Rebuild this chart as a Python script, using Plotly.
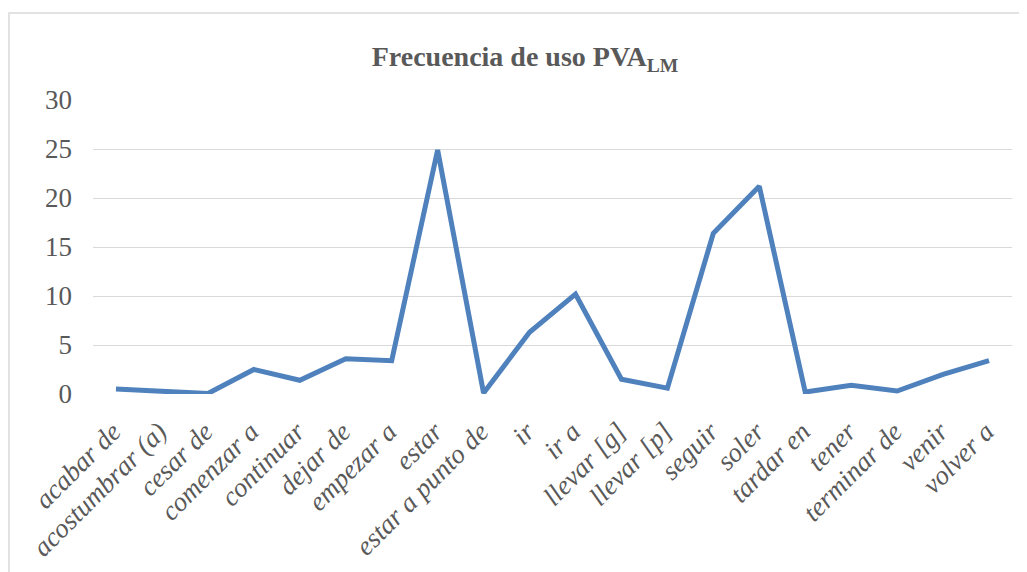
import plotly.graph_objects as go

categories = ["acabar de", "acostumbrar (a)", "cesar de", "comenzar a", "continuar",
              "dejar de", "empezar a", "estar", "estar a punto de", "ir", "ir a",
              "llevar [g]", "llevar [p]", "seguir", "soler", "tardar en", "tener",
              "terminar de", "venir", "volver a"]
values = [0.5, 0.25, 0.05, 2.5, 1.4, 3.6, 3.4, 24.9, 0.1, 6.3, 10.2,
          1.5, 0.6, 16.4, 21.2, 0.2, 0.9, 0.3, 2.0, 3.4]
y_ticks = [0, 5, 10, 15, 20, 25, 30]

# page body adds an 8px margin, so the figure is offset by 8px
W, H = 1019, 564
L, R, T, B = 85, 15, 92, 178
pw, ph = W - L - R, H - T - B

fig = go.Figure()
fig.add_trace(go.Scatter(
    x=categories, y=values, mode="lines",
    line=dict(color="#4F81BD", width=5),
    hoverinfo="x+y"
))

def px_x(p):
    return (p - L) / pw

def px_y(p):
    return 1 - (p - T) / ph

fig.update_layout(
    width=W, height=H,
    margin=dict(l=L, r=R, t=T, b=B, autoexpand=False),
    paper_bgcolor="white", plot_bgcolor="white",
    showlegend=False,
    title=dict(
        text="<b>Frecuencia de uso PVA<sub>LM</sub></b>",
        font=dict(family="Liberation Serif", size=28, color="#595959"),
        x=517 / W, xref="container", xanchor="center",
        y=1 - 48 / H, yref="container", yanchor="middle"
    ),
    xaxis=dict(
        type="category", tickangle=-45,
        tickfont=dict(family="Liberation Serif", size=27, color="#595959", style="italic"),
        showgrid=False, showline=False, zeroline=False,
        ticks="outside", ticklen=10, tickcolor="rgba(0,0,0,0)",
        ticklabelshift=-3,
        range=[-0.5, len(categories) - 0.5]
    ),
    yaxis=dict(
        range=[0, 30], tickvals=y_ticks,
        tickfont=dict(family="Liberation Serif", size=27, color="#595959"),
        showgrid=True, gridcolor="#D9D9D9", gridwidth=1.3,
        zeroline=False, showline=False, ticks="",
        ticklabelstandoff=20
    ),
    shapes=[dict(
        type="rect", xref="paper", yref="paper",
        x0=px_x(1), x1=px_x(1045), y0=px_y(600), y1=px_y(5),
        line=dict(color="#D9D9D9", width=1.5), fillcolor="rgba(0,0,0,0)", layer="below"
    )]
)

fig.write_html("out.html")
